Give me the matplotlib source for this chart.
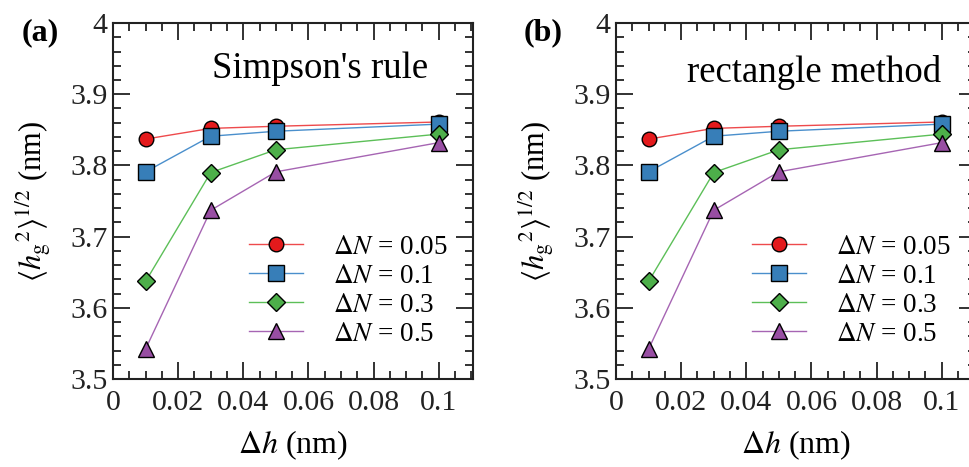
import matplotlib
matplotlib.use("Agg")
import matplotlib.pyplot as plt
from matplotlib.ticker import MultipleLocator, FuncFormatter

plt.rcParams["font.family"] = ["Liberation Serif", "DejaVu Serif"]
plt.rcParams["mathtext.fontset"] = "stix"

# grid spacing and series values (same for both integration schemes)
dh = [0.01, 0.03, 0.05, 0.1]
dn_labels = ["0.05", "0.1", "0.3", "0.5"]
h_simpson = [
    [3.837, 3.852, 3.855, 3.861],
    [3.791, 3.841, 3.848, 3.858],
    [3.637, 3.790, 3.822, 3.844],
    [3.542, 3.737, 3.791, 3.832],
]
h_rect = [
    [3.837, 3.852, 3.855, 3.861],
    [3.791, 3.841, 3.848, 3.858],
    [3.637, 3.790, 3.822, 3.844],
    [3.542, 3.737, 3.791, 3.832],
]
panel_titles = ["Simpson's rule", "rectangle method"]
title_pos = [(0.575, 0.845), (0.55, 0.835)]
panel_tags = ["(a)", "(b)"]

colors = ["#e41a1c", "#377eb8", "#4daf4a", "#984ea3"]
line_colors = ["#ee4a4c", "#4a8fcc", "#5cbf58", "#a665b3"]
markers = ["o", "s", "D", "^"]
msizes = [10.5, 11, 9.5, 11]

fig = plt.figure(figsize=(9.69, 4.67), dpi=100)
axes = [
    fig.add_axes([0.1166, 0.1884, 0.3715, 0.7623]),
    fig.add_axes([0.6357, 0.1884, 0.3715, 0.7623]),
]

fmt = FuncFormatter(lambda v, _: f"{v:g}")

for ax, data, title, tpos, tag in zip(axes, [h_simpson, h_rect], panel_titles,
                                      title_pos, panel_tags):
    for vals, lab, c, lc, m, ms in zip(data, dn_labels, colors, line_colors, markers, msizes):
        ax.plot(dh, vals, color=lc, lw=1.0, marker=m, ms=ms,
                mfc=c, mec="black", mew=1.0,
                label=r"$\Delta N$ = " + lab)
    ax.set_xlim(0, 0.1105)
    ax.set_ylim(3.5, 4.0)
    ax.xaxis.set_major_locator(MultipleLocator(0.02))
    ax.xaxis.set_minor_locator(MultipleLocator(0.005))
    ax.yaxis.set_major_locator(MultipleLocator(0.1))
    ax.yaxis.set_minor_locator(MultipleLocator(0.02))
    ax.xaxis.set_major_formatter(fmt)
    ax.yaxis.set_major_formatter(fmt)
    ax.tick_params(which="both", direction="in", top=True, right=True,
                   width=1.3, labelsize=21.5, colors="#222222")
    ax.tick_params(which="major", length=12)
    ax.tick_params(which="minor", length=6)
    ax.tick_params(axis="x", pad=8)
    ax.tick_params(axis="y", pad=4)
    for s in ax.spines.values():
        s.set_linewidth(1.5)
        s.set_color("#222222")
    ax.set_xlabel(r"$\Delta h$ (nm)", fontsize=23, labelpad=9)
    ax.set_ylabel(r"$\langle h_{\mathrm{g}}{}^{2}\rangle^{1/2}$ (nm)",
                  fontsize=22, labelpad=12)
    ax.text(tpos[0], tpos[1], title, transform=ax.transAxes,
            ha="center", va="baseline", fontsize=26.5)
    ax.legend(loc="lower left", bbox_to_anchor=(0.378, 0.09), frameon=False,
              fontsize=19.5, handlelength=2.0, handletextpad=1.1,
              labelspacing=0.15, borderaxespad=0, borderpad=0)
    pos = ax.get_position()
    fig.text(pos.x0 - 0.075, 0.93, tag, fontsize=23, fontweight="bold",
             ha="center", va="center")

fig.savefig("out.png", dpi=100)
